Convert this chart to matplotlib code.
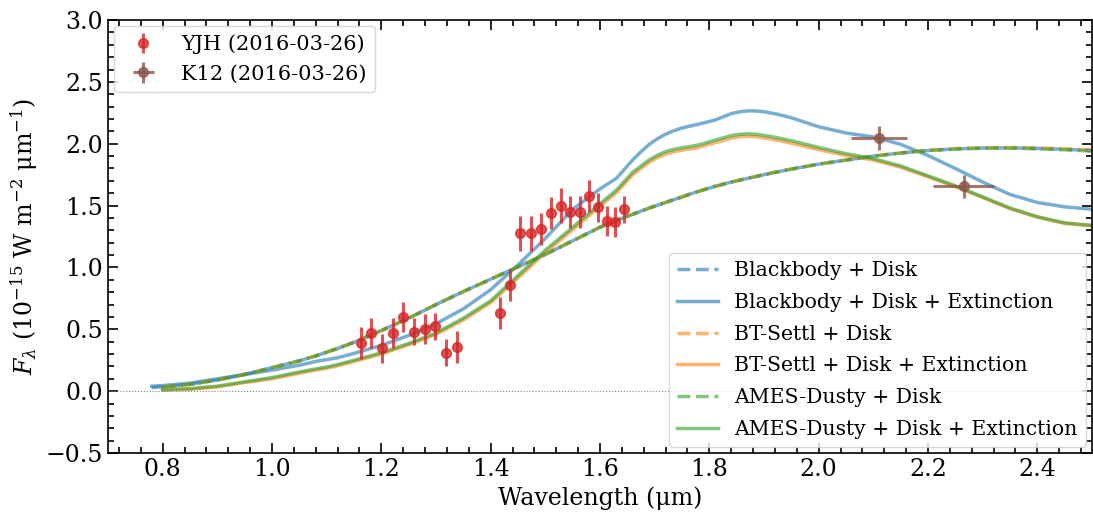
import numpy as np
import matplotlib
matplotlib.use("Agg")
import matplotlib.pyplot as plt
from matplotlib.ticker import AutoMinorLocator

# photometry (flux in 1e-15 W m-2 um-1)
yjh_wl = [1.163, 1.182, 1.201, 1.221, 1.240, 1.260, 1.280, 1.299, 1.318, 1.338,
          1.417, 1.436, 1.454, 1.473, 1.492, 1.510, 1.528, 1.546, 1.563, 1.580,
          1.597, 1.612, 1.628, 1.643]
yjh_flux = [0.39, 0.47, 0.345, 0.47, 0.60, 0.48, 0.505, 0.525, 0.31, 0.355,
            0.635, 0.855, 1.275, 1.275, 1.31, 1.44, 1.50, 1.445, 1.45, 1.575,
            1.485, 1.375, 1.37, 1.47]
yjh_err = [0.13, 0.12, 0.12, 0.12, 0.12, 0.11, 0.12, 0.11, 0.11, 0.13,
           0.13, 0.13, 0.14, 0.14, 0.13, 0.13, 0.14, 0.13, 0.13, 0.13,
           0.12, 0.12, 0.12, 0.11]

k12_wl = [2.110, 2.265]
k12_flux = [2.045, 1.655]
k12_wl_err = [0.051, 0.056]
k12_err = [0.098, 0.094]

# model spectra
wl = [0.78, 0.80, 0.85, 0.90, 0.95, 1.00, 1.05, 1.08, 1.10, 1.12,
      1.15, 1.20, 1.25, 1.30, 1.35, 1.40, 1.45, 1.50, 1.55, 1.60,
      1.63, 1.66, 1.675, 1.69, 1.705, 1.72, 1.735, 1.75, 1.765, 1.78,
      1.81, 1.84, 1.855, 1.87, 1.885, 1.90, 1.925, 1.95,
      2.00, 2.05, 2.10, 2.15, 2.20, 2.25, 2.30, 2.35, 2.40, 2.45, 2.50]

bb_disk = [0.03, 0.035, 0.055, 0.09, 0.135, 0.19, 0.245, 0.285, 0.315, 0.345,
           0.395, 0.49, 0.59, 0.70, 0.805, 0.905, 1.005, 1.105, 1.215, 1.325,
           1.38, 1.43, 1.455, 1.48, 1.503, 1.525, 1.548, 1.57, 1.593, 1.615,
           1.655, 1.69, 1.705, 1.72, 1.735, 1.75, 1.773, 1.795,
           1.835, 1.868, 1.90, 1.925, 1.945, 1.958, 1.965, 1.967, 1.962, 1.955, 1.945]
bb_disk_ext = [0.04, 0.045, 0.065, 0.10, 0.135, 0.17, 0.21, 0.24, 0.255, 0.27,
               0.305, 0.37, 0.45, 0.545, 0.665, 0.82, 1.02, 1.235, 1.47, 1.635,
               1.72, 1.87, 1.935, 1.995, 2.04, 2.077, 2.105, 2.127, 2.143, 2.158,
               2.191, 2.243, 2.258, 2.266, 2.265, 2.259, 2.238, 2.21,
               2.137, 2.087, 2.055, 1.995, 1.905, 1.80, 1.69, 1.59, 1.525, 1.49, 1.47]

settl_disk = [np.nan, 0.035, 0.055, 0.09, 0.135, 0.19, 0.245, 0.285, 0.315, 0.345,
              0.395, 0.49, 0.59, 0.70, 0.805, 0.905, 1.005, 1.105, 1.215, 1.325,
              1.38, 1.43, 1.455, 1.48, 1.503, 1.525, 1.548, 1.57, 1.593, 1.615,
              1.655, 1.69, 1.705, 1.72, 1.735, 1.75, 1.773, 1.795,
              1.835, 1.868, 1.90, 1.925, 1.947, 1.961, 1.968, 1.970, 1.966, 1.959, 1.950]
settl_disk_ext = [np.nan, 0.008, 0.016, 0.035, 0.07, 0.10, 0.145, 0.17, 0.185, 0.205,
                  0.24, 0.30, 0.375, 0.46, 0.575, 0.715, 0.915, 1.12, 1.305, 1.495,
                  1.605, 1.75, 1.80, 1.85, 1.887, 1.917, 1.935, 1.948, 1.958, 1.97,
                  2.008, 2.046, 2.056, 2.06, 2.057, 2.048, 2.028, 2.005,
                  1.952, 1.905, 1.868, 1.81, 1.733, 1.653, 1.565, 1.476, 1.406, 1.356, 1.336]

ames_disk = [np.nan, 0.035, 0.055, 0.09, 0.135, 0.19, 0.245, 0.285, 0.315, 0.345,
             0.395, 0.49, 0.59, 0.70, 0.805, 0.905, 1.005, 1.105, 1.215, 1.325,
             1.38, 1.43, 1.455, 1.48, 1.503, 1.525, 1.548, 1.57, 1.593, 1.615,
             1.655, 1.69, 1.705, 1.72, 1.735, 1.75, 1.773, 1.795,
             1.835, 1.868, 1.90, 1.925, 1.945, 1.957, 1.963, 1.964, 1.959, 1.951, 1.940]
ames_disk_ext = [np.nan, 0.012, 0.02, 0.04, 0.075, 0.11, 0.155, 0.18, 0.195, 0.215,
                 0.25, 0.31, 0.385, 0.47, 0.59, 0.73, 0.935, 1.14, 1.325, 1.515,
                 1.625, 1.77, 1.82, 1.87, 1.907, 1.937, 1.955, 1.968, 1.978, 1.99,
                 2.028, 2.066, 2.076, 2.08, 2.077, 2.068, 2.048, 2.025,
                 1.97, 1.92, 1.88, 1.82, 1.74, 1.66, 1.57, 1.48, 1.41, 1.36, 1.34]

plt.rcParams['font.family'] = 'DejaVu Serif'
plt.rcParams['mathtext.fontset'] = 'dejavuserif'

fig = plt.figure(figsize=(10.93, 5.12), dpi=100)
ax = fig.add_axes([0.0988, 0.1152, 0.9003, 0.8457])

lw = 2.5
ax.plot(wl, bb_disk, ls='--', lw=lw, color='tab:blue', alpha=0.6, label='Blackbody + Disk')
ax.plot(wl, bb_disk_ext, ls='-', lw=lw, color='tab:blue', alpha=0.6, label='Blackbody + Disk + Extinction')
ax.plot(wl, settl_disk, ls='--', lw=lw, color='tab:orange', alpha=0.6, label='BT-Settl + Disk')
ax.plot(wl, settl_disk_ext, ls='-', lw=lw, color='tab:orange', alpha=0.6, label='BT-Settl + Disk + Extinction')
ax.plot(wl, ames_disk, ls='--', lw=lw, color='tab:green', alpha=0.6, label='AMES-Dusty + Disk')
ax.plot(wl, ames_disk_ext, ls='-', lw=lw, color='tab:green', alpha=0.6, label='AMES-Dusty + Disk + Extinction')

model_legend = ax.legend(loc='lower right', fontsize=14.7, borderaxespad=0.3, labelspacing=0.62)
ax.add_artist(model_legend)

e1 = ax.errorbar(yjh_wl, yjh_flux, yerr=yjh_err, fmt='o', ms=7, elinewidth=2.2,
                 color='tab:red', alpha=0.8, label='YJH (2016-03-26)')
e2 = ax.errorbar(k12_wl, k12_flux, xerr=k12_wl_err, yerr=k12_err, fmt='o', ms=7,
                 elinewidth=2.2, color='tab:brown', alpha=0.8, label='K12 (2016-03-26)')
ax.legend(handles=[e1, e2], loc='upper left', fontsize=15, borderaxespad=0.3)

ax.axhline(0.0, ls=':', lw=0.8, color='gray')

ax.set_xlim(0.7, 2.5)
ax.set_ylim(-0.5, 3.0)
ax.set_xticks([0.8, 1.0, 1.2, 1.4, 1.6, 1.8, 2.0, 2.2, 2.4])
ax.xaxis.set_minor_locator(AutoMinorLocator(5))
ax.yaxis.set_minor_locator(AutoMinorLocator(5))
ax.tick_params(which='both', direction='in', top=True, right=True, labelsize=17, width=1.2)
ax.tick_params(which='major', length=7)
ax.tick_params(which='minor', length=4)
for s in ax.spines.values():
    s.set_linewidth(1.2)

ax.set_xlabel('Wavelength (μm)', fontsize=17)
ax.set_ylabel(r'$F_\lambda$ ($10^{-15}$ W m$^{-2}$ μm$^{-1}$)', fontsize=17)

fig.savefig('out.png', dpi=100)
